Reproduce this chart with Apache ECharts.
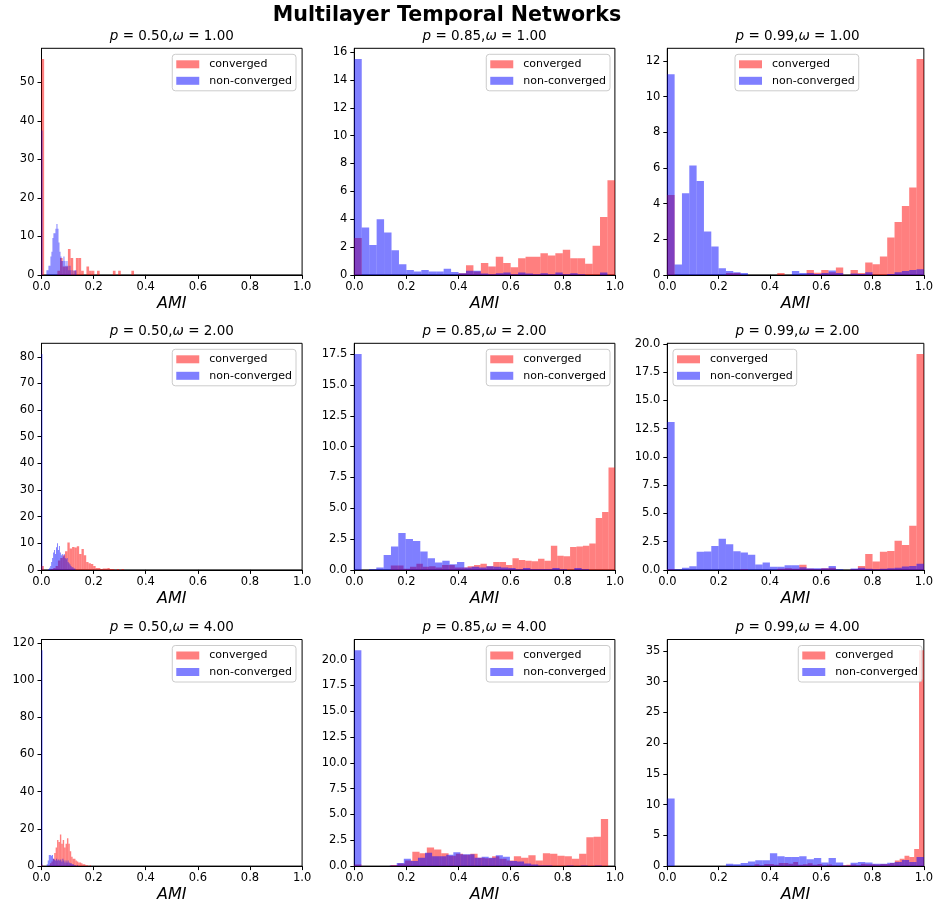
<!DOCTYPE html>
<html>
<head>
<meta charset="utf-8">
<script src="https://cdn.jsdelivr.net/npm/echarts@6/dist/echarts.min.js"></script>
<style>
html,body{margin:0;padding:0;background:#fff;}
#chart{width:936px;height:907px;}
</style>
</head>
<body>
<div id="chart"></div>
<script>
// ---------------- DATA ----------------
const suptitle = 'Multilayer Temporal Networks';
const pLabels = ['0.50', '0.85', '0.99'];      // columns
const wLabels = ['1.00', '2.00', '4.00'];      // rows
const seriesNames = ['converged', 'non-converged'];
const xTicks = [0, 0.2, 0.4, 0.6, 0.8, 1.0];
const yStep = [10, 2, 2, 10, 2.5, 2.5, 20, 2.5, 5];

// density histograms (35 bins each), [lo, hi] = bin range of the series
const conv_050_1 = [56,0,0,0,0,0,1.1,4.4,2.2,2.2,6.7,4.4,1.1,4.4,4.4,1.1,0,2.2,1.1,1.1,0,1.1,0,0,0,0,0,1.1,0,1.1,0,0,0,0,1.1];
const conv_085_1 = [2.65,0,0,0,0,0,0,0,0,0,0,0,0,0,0.12,0.7,0.25,0.85,0.6,1.3,0.85,0.55,1.2,1.3,1.3,1.55,1.4,1.55,1.8,1.2,1.2,0.8,2.1,4.15,6.8];
const conv_099_1 = [4.48,0,0,0,0,0,0,0,0.1,0.1,0,0,0,0,0,0.1,0,0,0,0.28,0.12,0.28,0.15,0.42,0,0.28,0.1,0.7,0.6,1.03,2.1,2.97,3.87,4.9,12.1];
const conv_050_2 = [1.5,0,0,0,0.3,0.7,1.5,3.5,4.5,5.5,7,10.3,8,8.6,8.4,8.9,6,7.8,5.5,3,2.5,2.2,1.5,0.7,0.7,0.3,0.5,0.5,0.7,0.3,0.3,0,0.3,0,0.3];
const conv_085_2 = [0.35,0.35,0.1,0.25,0.5,0.25,0.3,0.2,0.4,0.4,0.2,0.2,0.3,0.4,0.5,0.3,0.65,0.65,0.4,0.95,0.8,0.75,0.7,0.9,0.75,1.95,1.15,1.1,1.85,1.9,1.95,2.15,4.2,4.7,8.3];
const conv_099_2 = [0.05,0,0,0,0,0,0,0,0,0,0.05,0,0,0,0,0.1,0.15,0.1,0.45,0.1,0.05,0.15,0.2,0,0,0.05,0.35,1.4,0.75,1.6,1.68,2.57,2.2,3.9,19.1];
const conv_050_4 = [0.7,0,0,0,0,0.5,1.5,2.5,4,7,10,14,13,17,12,14,10,12,15,12,8,5,4,4,3,2.5,2,2,1.5,1,1,0.5,0.5,0,0.5];
const conv_085_4 = [0.15,0,0,0,0,0.1,0.25,0.55,1.4,1.25,1.8,1.6,1.25,1.0,1.2,1.1,1.2,0.8,0.75,0.95,0.7,0.55,0.95,0.8,1.05,0.55,1.25,1.2,1.0,0.95,0.7,1.2,2.8,2.85,4.55];
const conv_099_4 = [0.3,0.1,0.35,0.35,0.2,0.5,0.5,0.4,0.65,0.2,0.3,0.45,0.2,0.35,0.1,0.25,0.1,0.05,0.15,0.2,0.25,0.15,0.4,0.3,0.3,0.25,0.35,0.35,0.5,0.9,1.2,1.7,1.5,2.8,35.1];

const non_050_1 = [37.5,0,0,0,0,1.2,1.2,2.4,2.4,4.8,6,9.6,10.8,10.8,12,13.2,12,8.4,6,4.8,3.6,3.6,4.8,3.6,2.4,3.6,2.4,1.2,2.4,1.2,0,1.2,0,1.2,1.2];
const non_085_1 = [15.5,3.4,2.15,4.0,3.04,1.77,0.77,0.36,0.24,0.36,0.24,0.24,0.45,0.2,0.12,0.29,0.29,0.1,0.05,0.12,0.17,0.05,0.17,0.1,0.05,0.12,0.05,0.17,0.05,0.12,0.05,0,0,0.17,0];
const non_099_1 = [11.25,0.58,4.58,6.13,5.27,2.43,1.59,0.37,0.22,0.15,0.1,0,0,0,0,0,0,0.22,0.1,0.1,0.05,0.1,0.25,0.1,0,0.08,0.05,0.15,0,0,0.05,0.15,0.22,0.27,0.32];
const non_050_2 = [81,0,0,0,0,0,0,0.3,0.8,1.5,3,4.5,6.5,7.5,6,8.5,10,7.5,9,6.5,5.5,6,5,6,4.5,4,4.5,3,2.5,2,1.5,1,1,0.5,0.5];
const non_085_2 = [17.5,0,0.05,0.2,1.2,1.9,3.0,2.5,2.35,1.5,0.95,0.6,0.75,0.45,0.65,0.2,0.25,0.2,0.3,0.25,0.2,0.15,0.05,0.15,0.05,0.05,0.05,0.15,0.05,0,0.15,0.05,0,0,0];
const non_099_2 = [13.1,0.05,0.18,0.32,1.6,1.62,2.12,2.75,2.27,1.65,1.53,1.33,0.47,0.65,0.27,0.27,0.41,0.41,0.24,0.15,0.15,0.15,0.35,0.06,0,0.12,0.18,0.1,0.05,0.1,0.15,0.2,0.3,0.35,0.55];
const non_050_4 = [116,0,0,0,0,1,3,6,6,5.5,6,4,3.5,3,4,3,3.5,3,3.5,2.5,4,3,2,3,2,3,2,1.5,1.5,1,1,0.5,0.5,0,0.5];
const non_085_4 = [20.9,0,0,0,0,0.05,0.3,0.7,0.5,0.8,1.3,0.95,0.95,1.1,1.35,1.15,1.15,0.8,0.9,0.8,1.05,0.9,0.5,0.45,0.25,0.15,0.05,0.05,0,0,0.05,0,0.05,0,0.05];
const non_099_4 = [11.0,0,0,0,0,0,0,0,0.4,0.3,0.5,0.75,0.95,0.95,2.1,1.6,1.5,1.5,1.6,1.1,1.3,0.6,1.3,0.6,0.1,0.55,0.65,0.6,0.4,0.4,0.55,0.65,1.0,0.65,1.5];

const convValues = [conv_050_1, conv_085_1, conv_099_1, conv_050_2, conv_085_2, conv_099_2, conv_050_4, conv_085_4, conv_099_4];
const convRange  = [[0,0.355],[0,1],[0,1],[0,0.316],[0.14,1],[0,1],[0,0.19],[0,0.974],[0.34,1]];
const nonValues  = [non_050_1, non_085_1, non_099_1, non_050_2, non_085_2, non_099_2, non_050_4, non_085_4, non_099_4];
const nonRange   = [[0,0.134],[0,1],[0,1],[0,0.13],[0,0.985],[0,1],[0,0.14],[0,0.95],[0,1]];

// ---------------- LAYOUT / STYLE ----------------
const FONT = 'DejaVu Sans';
const colLeft = [41.5, 354.3, 667.3];
const rowTop = [48.3, 343.3, 639.5];
const gridW = 260.6, gridH = 226.6;
const legendPos = [
  {right: 640}, {right: 326}, {left: 735},
  {right: 640}, {right: 326}, {left: 673},
  {right: 640}, {right: 326}, {right: 14}
];
const colors = ['rgba(255,0,0,0.5)', 'rgba(0,0,255,0.5)'];

function binData(vals, range) {
  const n = vals.length, w = (range[1] - range[0]) / n;
  return vals.map((v, i) => [range[0] + i * w, range[0] + (i + 1) * w, v]);
}
function renderItem(params, api) {
  const a = api.coord([api.value(0), 0]);
  const b = api.coord([api.value(1), api.value(2)]);
  return {
    type: 'rect',
    shape: {x: a[0], y: b[1], width: b[0] - a[0], height: a[1] - b[1]},
    style: {fill: api.visual('color')}
  };
}

const grids = [], xAxes = [], yAxes = [], series = [], titles = [], legends = [];
titles.push({
  text: suptitle, left: 447, top: 5, textAlign: 'center', padding: 0,
  textStyle: {fontFamily: FONT, fontSize: 20.6, fontWeight: 'bold', color: '#000'}
});

for (let k = 0; k < 9; k++) {
  const r = Math.floor(k / 3), c = k % 3;
  const left = colLeft[c], top = rowTop[r];
  grids.push({left: left, top: top, width: gridW, height: gridH, show: true,
    borderColor: '#000', borderWidth: 1, backgroundColor: 'transparent'});
  const ymax = 1.05 * Math.max(...convValues[k], ...nonValues[k]);
  const step = yStep[k];
  const yt = [];
  for (let v = 0; v <= ymax + 1e-9; v += step) yt.push(Math.round(v * 1000) / 1000);
  xAxes.push({
    gridIndex: k, type: 'value', min: 0, max: 1, interval: 0.2,
    axisLine: {show: true, onZero: false, lineStyle: {color: '#000', width: 1}},
    axisTick: {show: true, inside: false, length: 4, lineStyle: {color: '#000', width: 1}, customValues: xTicks},
    axisLabel: {color: '#000', fontFamily: FONT, fontSize: 11.5, margin: 6, customValues: xTicks,
      formatter: v => v.toFixed(1)},
    splitLine: {show: false},
    name: 'AMI', nameLocation: 'middle', nameGap: 21,
    nameTextStyle: {fontFamily: FONT, fontStyle: 'italic', fontSize: 16, color: '#000'}
  });
  yAxes.push({
    gridIndex: k, type: 'value', min: 0, max: ymax,
    axisLine: {show: true, onZero: false, lineStyle: {color: '#000', width: 1}},
    axisTick: {show: true, inside: false, length: 4, lineStyle: {color: '#000', width: 1}, customValues: yt},
    axisLabel: {color: '#000', fontFamily: FONT, fontSize: 11.5, margin: 7, customValues: yt,
      formatter: v => step % 1 ? v.toFixed(1) : String(Math.round(v))},
    splitLine: {show: false}
  });
  titles.push({
    text: '{i|p} = ' + pLabels[c] + ',{i|ω} = ' + wLabels[r],
    left: left + gridW / 2, top: top - 19, textAlign: 'center', padding: 0,
    textStyle: {fontFamily: FONT, fontSize: 13.5, fontWeight: 'normal', color: '#000',
      rich: {i: {fontFamily: FONT, fontSize: 13.5, fontStyle: 'italic', color: '#000'}}}
  });
  legends.push(Object.assign({
    top: top + 6, orient: 'vertical', icon: 'rect', itemWidth: 23, itemHeight: 8, itemGap: 2.5,
    padding: [3, 4, 3, 4], borderColor: '#ccc', borderWidth: 1, borderRadius: 3,
    backgroundColor: 'rgba(255,255,255,0.8)', selectedMode: false,
    data: seriesNames,
    textStyle: {fontFamily: FONT, fontSize: 11, color: '#000', lineHeight: 14, padding: [0, 0, 0, 5]}
  }, legendPos[k]));
  series.push({
    type: 'custom', name: seriesNames[0], xAxisIndex: k, yAxisIndex: k,
    itemStyle: {color: colors[0]}, renderItem: renderItem, clip: true,
    encode: {x: [0, 1], y: 2}, data: binData(convValues[k], convRange[k])
  });
  series.push({
    type: 'custom', name: seriesNames[1], xAxisIndex: k, yAxisIndex: k,
    itemStyle: {color: colors[1]}, renderItem: renderItem, clip: true,
    encode: {x: [0, 1], y: 2}, data: binData(nonValues[k], nonRange[k])
  });
}

const chart = echarts.init(document.getElementById('chart'), null, {renderer: 'canvas'});
chart.setOption({
  animation: false,
  backgroundColor: '#fff',
  title: titles, legend: legends, grid: grids, xAxis: xAxes, yAxis: yAxes, series: series
});
</script>
</body>
</html>
